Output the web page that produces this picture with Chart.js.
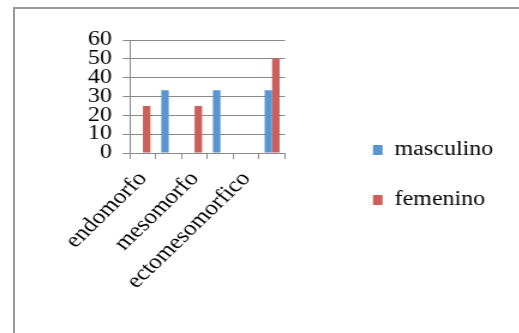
<!DOCTYPE html>
<html>
<head>
<meta charset="utf-8">
<script src="https://cdn.jsdelivr.net/npm/chart.js@4/dist/chart.umd.min.js"></script>
<style>
  body { margin: 0; background: #fff; overflow: hidden; }
  #frame {
    position: absolute; left: 13px; top: 7px; width: 600px; height: 400px;
    border-left: 2px solid #9a9a9a; border-top: 2px solid #9a9a9a;
  }
  #wrap {
    position: absolute; left: 0; top: 0; width: 460px; height: 333px;
    transform: scaleX(1.2); transform-origin: 0 0;
  }
</style>
</head>
<body>
<div id="frame"></div>
<div id="wrap"><canvas id="myChart"></canvas></div>
<script>
// categories (odd ones have no visible label in the picture)
var categorias = ['endomorfo', '', 'mesomorfo', '', 'ectomesomorfico', ''];
var masculino = [0, 33.3, 0, 33.3, 0, 33.3];
var femenino = [25, 0, 25, 0, 0, 50];
var yTicks = [0, 10, 20, 30, 40, 50, 60];

var serif = 'Liberation Serif';
var gris = '#8a8a8a';

var ctx = document.getElementById('myChart');
var myChart = new Chart(ctx, {
  type: 'bar',
  data: {
    labels: categorias,
    datasets: [
      {
        label: 'masculino',
        data: masculino,
        backgroundColor: '#5B95D0',
        borderWidth: 0,
        barPercentage: 1,
        categoryPercentage: 0.58
      },
      {
        label: 'femenino',
        data: femenino,
        backgroundColor: '#CD5F5A',
        borderWidth: 0,
        barPercentage: 1,
        categoryPercentage: 0.58
      }
    ]
  },
  options: {
    responsive: true,
    maintainAspectRatio: false,
    animation: false,
    layout: { padding: { top: 40, left: 0, right: 39.2, bottom: 23 } },
    scales: {
      x: {
        grid: { drawOnChartArea: false, drawTicks: true, tickLength: 6, color: gris, offset: true },
        border: { color: gris, width: 1 },
        ticks: {
          autoSkip: false,
          minRotation: 49,
          maxRotation: 49,
          padding: 8,
          color: '#000',
          font: { family: serif, size: 21 }
        },
        afterFit: function (s) { s.height = 157; }
      },
      y: {
        min: 0,
        max: 60,
        afterBuildTicks: function (s) { s.ticks = yTicks.map(function (v) { return { value: v }; }); },
        grid: { color: gris, tickLength: 6, lineWidth: 1 },
        border: { color: gris, width: 1 },
        ticks: {
          autoSkip: false,
          padding: 9,
          color: '#000',
          font: { family: serif, size: 20 }
        },
        afterFit: function (s) { s.width = 108.3; }
      },
      // empty space between plot and legend
      hueco: {
        type: 'linear',
        position: 'right',
        grid: { display: false, drawTicks: false },
        border: { display: false },
        ticks: { display: false },
        afterFit: function (s) { s.width = 43.3; }
      }
    },
    plugins: {
      legend: {
        position: 'right',
        align: 'center',
        maxWidth: 140,
        labels: {
          boxWidth: 8,
          boxHeight: 10,
          padding: 30,
          color: '#000',
          font: { family: serif, size: 20 }
        }
      },
      tooltip: { enabled: false }
    }
  }
});
</script>
</body>
</html>
